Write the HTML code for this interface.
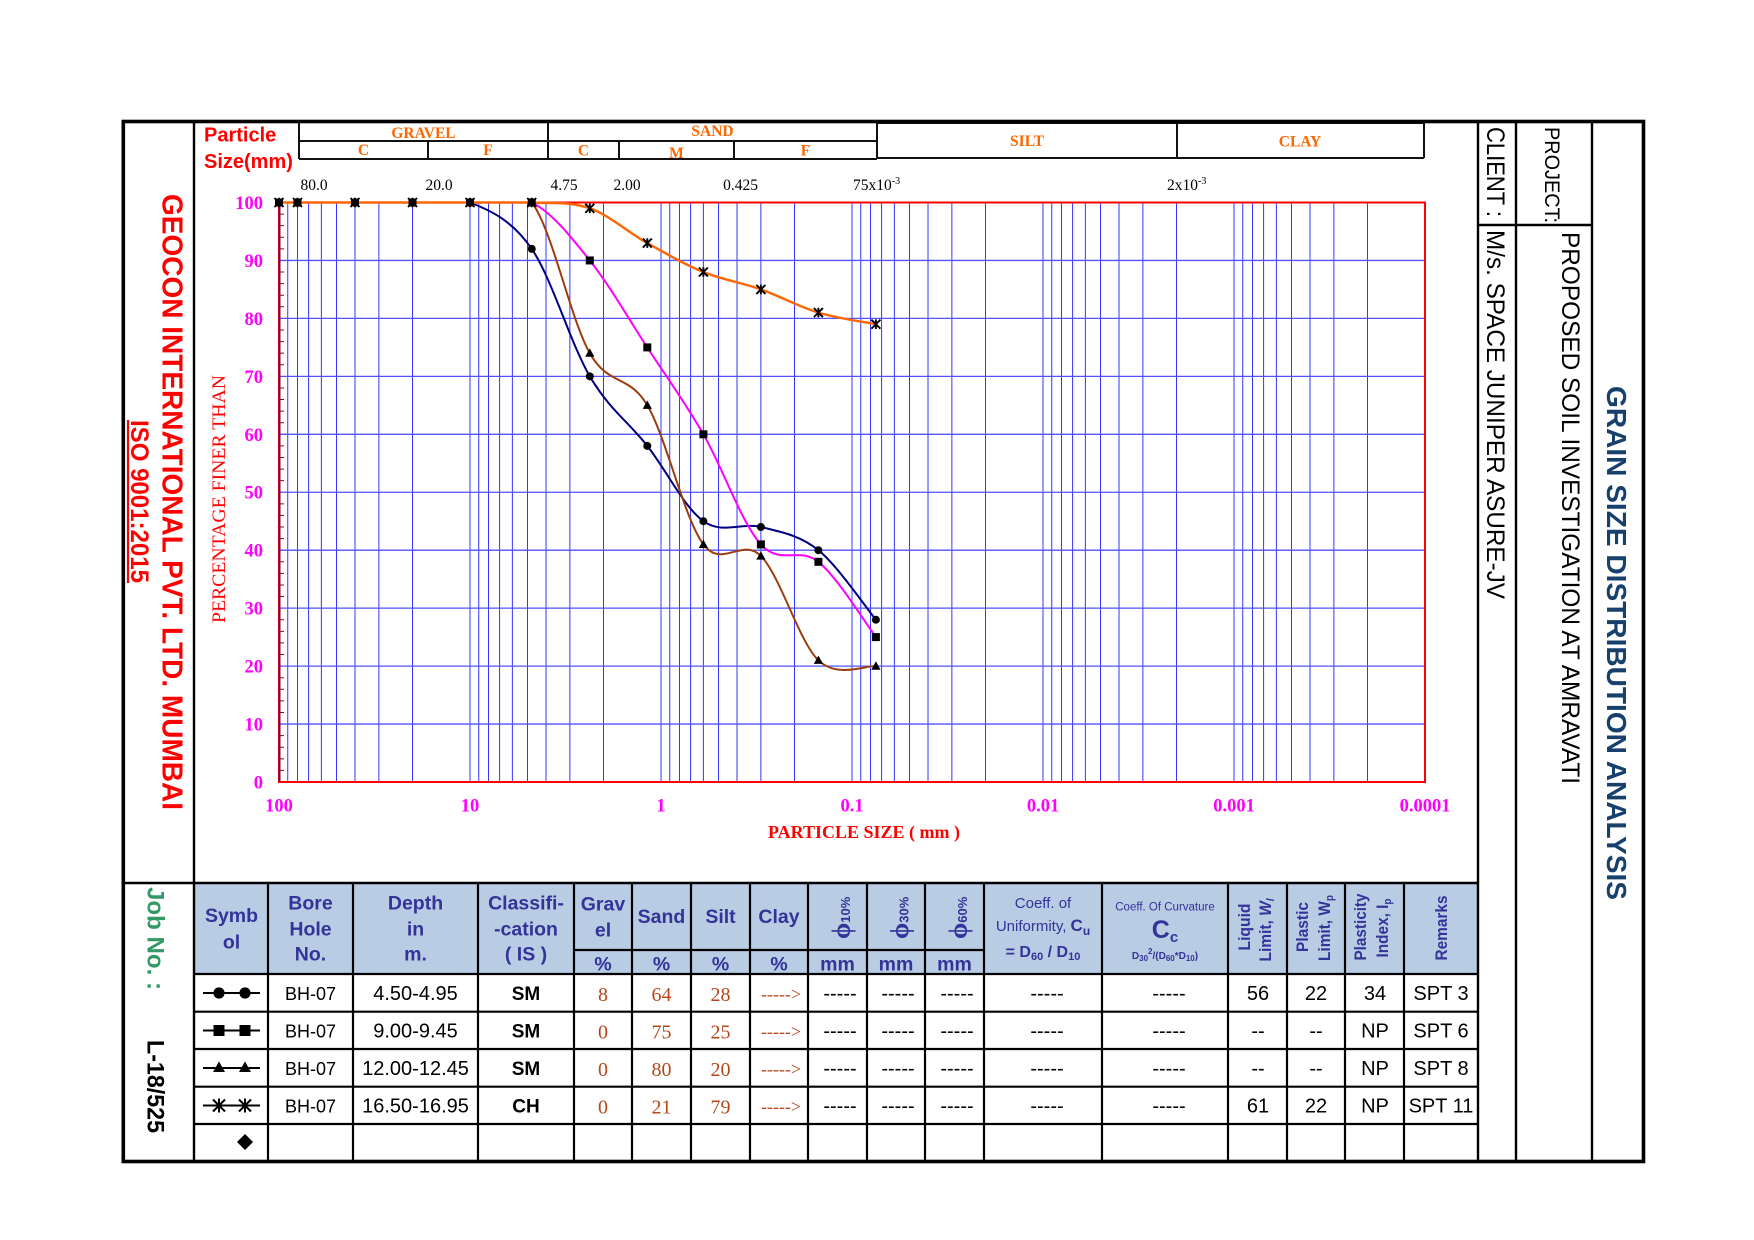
<!DOCTYPE html>
<html><head><meta charset="utf-8"><title>Grain Size Distribution Analysis</title>
<style>
html,body{margin:0;padding:0;background:#fff}
svg{display:block}
.s{font-family:"Liberation Sans",Arial,sans-serif}
.t{font-family:"Liberation Serif","Times New Roman",serif}
</style></head><body>
<svg xmlns="http://www.w3.org/2000/svg" width="1754" height="1240" viewBox="0 0 1754 1240">
<rect width="1754" height="1240" fill="#fff"/>
<defs>
<g id="mC"><circle r="4" fill="#000"/></g>
<g id="mS"><rect x="-4" y="-4" width="8" height="8" fill="#000"/></g>
<g id="mT"><path d="M0,-4.8L4.6,3.6H-4.6Z" fill="#000"/></g>
<g id="mX"><path d="M-4.5,-4.5L4.5,4.5M-4.5,4.5L4.5,-4.5M0,-4.8V4.8" stroke="#000" stroke-width="1.9" fill="none"/></g>
</defs>

<!-- table header background -->
<rect x="195" y="884" width="1282" height="90" fill="#b8cce4"/>

<!-- vertical log grid -->
<path id="dec" d="M287.74 202.5V782M297.51 202.5V782M308.59 202.5V782M321.37 202.5V782M336.5 202.5V782M355.01 202.5V782M378.87 202.5V782M412.5 202.5V782M470 202.5V782" stroke="#3535ff" stroke-width="1" fill="none"/>
<use href="#dec" x="191"/>
<use href="#dec" x="382"/>
<use href="#dec" x="573"/>
<use href="#dec" x="764"/>
<use href="#dec" x="955"/>
<!-- horizontal grid -->
<path d="M279 724.05H1425M279 666.1H1425M279 608.15H1425M279 550.2H1425M279 492.25H1425M279 434.3H1425M279 376.35H1425M279 318.4H1425M279 260.45H1425" stroke="#5252ff" stroke-width="1.3" fill="none"/>
<!-- minor ticks on y axis -->
<path d="M279 770.41h5M279 758.82h5M279 747.23h5M279 735.64h5M279 712.46h5M279 700.87h5M279 689.28h5M279 677.69h5M279 654.51h5M279 642.92h5M279 631.33h5M279 619.74h5M279 596.56h5M279 584.97h5M279 573.38h5M279 561.79h5M279 538.61h5M279 527.02h5M279 515.43h5M279 503.84h5M279 480.66h5M279 469.07h5M279 457.48h5M279 445.89h5M279 422.71h5M279 411.12h5M279 399.53h5M279 387.94h5M279 364.76h5M279 353.17h5M279 341.58h5M279 329.99h5M279 306.81h5M279 295.22h5M279 283.63h5M279 272.04h5M279 248.86h5M279 237.27h5M279 225.68h5M279 214.09h5" stroke="#800040" stroke-width="1" fill="none"/>
<!-- plot frame -->
<rect x="279" y="202.5" width="1146" height="579.5" fill="none" stroke="#ff0000" stroke-width="2"/>
<path d="M279.5 202.5V782" stroke="#800040" stroke-width="2"/>

<!-- curves -->
<g fill="none" stroke-width="2" stroke-linejoin="round" stroke-linecap="round">
<path stroke="#000080" d="M279 202.5L470 202.5C489.9 210.2 511.8 219.9 531.75 248.9C551.7 277.9 570.5 343.5 589.8 376.35C609.1 409.2 628.4 421.8 647.3 445.9C666.2 470 684.5 507.7 703.4 521.2C722.3 534.7 741.7 522.2 760.9 527C780.1 531.8 799.2 534.8 818.4 550.2C837.6 565.7 866.3 608.1 875.9 619.7"/>
<path stroke="#ff00ff" d="M279 202.5L531.75 202.5C551.7 212.2 570.5 236.3 589.8 260.45C609.1 284.6 628.4 318.4 647.3 347.4C666.2 376.4 684.5 401.5 703.4 434.3C722.3 467.1 741.7 523.2 760.9 544.4C780.1 565.7 799.2 546.4 818.4 561.8C837.6 577.3 866.3 624.5 875.9 637.1"/>
<path stroke="#9c3d0c" d="M279 202.5L531.75 202.5C551.7 227.6 570.5 319.4 589.8 353.2C609.1 387 628.4 373.4 647.3 405.3C666.2 437.2 684.5 519.3 703.4 544.4C722.3 569.5 741.7 536.7 760.9 556C780.1 575.3 799.2 642 818.4 660.3C837.6 678.7 866.3 665.1 875.9 666.1"/>
<path stroke="#ff6600" stroke-width="2.4" d="M279 202.5L531.75 202.5C551.7 203.5 570.5 201.5 589.8 208.3C609.1 215.1 628.4 232.5 647.3 243.1C666.2 253.7 684.5 264.3 703.4 272C722.3 279.7 741.7 282.6 760.9 289.4C780.1 296.2 799.2 306.8 818.4 312.6C837.6 318.4 866.3 322.3 875.9 324.2"/>
</g>

<!-- markers -->
<g>
<use href="#mS" x="279" y="202.5"/><use href="#mS" x="297.5" y="202.5"/><use href="#mS" x="355" y="202.5"/><use href="#mS" x="412.5" y="202.5"/><use href="#mS" x="470" y="202.5"/><use href="#mS" x="531.75" y="202.5"/>
<use href="#mT" x="279" y="202.5"/><use href="#mT" x="297.5" y="202.5"/><use href="#mT" x="355" y="202.5"/><use href="#mT" x="412.5" y="202.5"/><use href="#mT" x="470" y="202.5"/><use href="#mT" x="531.75" y="202.5"/>
<use href="#mC" x="279" y="202.5"/><use href="#mC" x="297.5" y="202.5"/><use href="#mC" x="355" y="202.5"/><use href="#mC" x="412.5" y="202.5"/><use href="#mC" x="470" y="202.5"/>
<use href="#mX" x="279" y="202.5"/><use href="#mX" x="297.5" y="202.5"/><use href="#mX" x="355" y="202.5"/><use href="#mX" x="412.5" y="202.5"/><use href="#mX" x="470" y="202.5"/><use href="#mX" x="531.75" y="202.5"/>

<use href="#mC" x="531.75" y="248.9"/><use href="#mC" x="589.8" y="376.35"/><use href="#mC" x="647.3" y="445.9"/><use href="#mC" x="703.4" y="521.2"/><use href="#mC" x="760.9" y="527"/><use href="#mC" x="818.4" y="550.2"/><use href="#mC" x="875.9" y="619.7"/>
<use href="#mS" x="589.8" y="260.45"/><use href="#mS" x="647.3" y="347.4"/><use href="#mS" x="703.4" y="434.3"/><use href="#mS" x="760.9" y="544.4"/><use href="#mS" x="818.4" y="561.8"/><use href="#mS" x="875.9" y="637.1"/>
<use href="#mT" x="589.8" y="353.2"/><use href="#mT" x="647.3" y="405.3"/><use href="#mT" x="703.4" y="544.4"/><use href="#mT" x="760.9" y="556"/><use href="#mT" x="818.4" y="660.3"/><use href="#mT" x="875.9" y="666.1"/>
<use href="#mX" x="589.8" y="208.3"/><use href="#mX" x="647.3" y="243.1"/><use href="#mX" x="703.4" y="272"/><use href="#mX" x="760.9" y="289.4"/><use href="#mX" x="818.4" y="312.6"/><use href="#mX" x="875.9" y="324.2"/>
</g>

<!-- y axis labels -->
<g class="t" font-weight="bold" font-size="18.5" fill="#ff00ff" text-anchor="end">
<text x="263" y="209">100</text>
<text x="263" y="266.9">90</text>
<text x="263" y="324.9">80</text>
<text x="263" y="382.8">70</text>
<text x="263" y="440.8">60</text>
<text x="263" y="498.7">50</text>
<text x="263" y="556.7">40</text>
<text x="263" y="614.6">30</text>
<text x="263" y="672.6">20</text>
<text x="263" y="730.5">10</text>
<text x="263" y="788.5">0</text>
</g>
<!-- x axis labels -->
<g class="t" font-weight="bold" font-size="18.5" fill="#ff00ff" text-anchor="middle">
<text x="279" y="811.5">100</text>
<text x="470" y="811.5">10</text>
<text x="661" y="811.5">1</text>
<text x="852" y="811.5">0.1</text>
<text x="1043" y="811.5">0.01</text>
<text x="1234" y="811.5">0.001</text>
<text x="1425" y="811.5">0.0001</text>
</g>
<text class="t" x="864" y="838" font-weight="bold" font-size="18" fill="#ff0000" text-anchor="middle">PARTICLE SIZE ( mm )</text>
<text class="t" transform="translate(225,623) rotate(-90)" font-size="19" fill="#ff0000" textLength="248" lengthAdjust="spacingAndGlyphs">PERCENTAGE FINER THAN</text>

<!-- sieve size labels -->
<g class="t" font-size="15.5" fill="#000">
<text x="314" y="190" text-anchor="middle">80.0</text>
<text x="439" y="190" text-anchor="middle">20.0</text>
<text x="564" y="190" text-anchor="middle">4.75</text>
<text x="627" y="190" text-anchor="middle">2.00</text>
<text x="740.5" y="190" text-anchor="middle">0.425</text>
<text x="853" y="190">75x10<tspan font-size="10" dy="-6">-3</tspan></text>
<text x="1167" y="190">2x10<tspan font-size="10" dy="-6">-3</tspan></text>
</g>

<!-- top classification header -->
<g stroke="#111" stroke-width="2" fill="none">
<path d="M299 121V159M548 121V159M877 121V159M299 141H877M299 159H877M428 141V159M619 141V159M734 141V159"/>
<path d="M877 123H1424M877 158H1424M1177 123V158M1424 123V158"/>
</g>
<g class="t" font-weight="bold" font-size="15.5" fill="#ff6600" text-anchor="middle">
<text x="423.5" y="138">GRAVEL</text>
<text x="363.5" y="155">C</text>
<text x="488" y="155">F</text>
<text x="712.5" y="136">SAND</text>
<text x="583.5" y="155.5">C</text>
<text x="676.5" y="158">M</text>
<text x="805.5" y="155.5">F</text>
<text x="1027" y="146">SILT</text>
<text x="1300" y="146.5">CLAY</text>
</g>
<g class="s" font-weight="bold" font-size="20" fill="#ff0000">
<text x="204" y="141.7">Particle</text>
<text x="204" y="168">Size(mm)</text>
</g>

<!-- left strip texts -->
<text class="s" transform="translate(162.5,194) rotate(90)" font-weight="bold" font-size="29" fill="#ff0000" textLength="616" lengthAdjust="spacingAndGlyphs">GEOCON INTERNATIONAL PVT. LTD. MUMBAI</text>
<text class="s" transform="translate(131,420) rotate(90)" font-weight="bold" font-size="25" fill="#ff0000" textLength="163" lengthAdjust="spacingAndGlyphs">ISO 9001:2015</text>
<path d="M128 420V583" stroke="#ff0000" stroke-width="2.2"/>
<text class="s" transform="translate(147.5,887) rotate(90)" font-weight="bold" font-size="24.5" fill="#339966" textLength="103" lengthAdjust="spacingAndGlyphs">Job No. :</text>
<text class="s" transform="translate(147.5,1040) rotate(90)" font-weight="bold" font-size="24.5" fill="#000" textLength="93" lengthAdjust="spacingAndGlyphs">L-18/525</text>

<!-- right panel texts -->
<text class="s" transform="translate(1487,127) rotate(90)" font-size="25" fill="#000" textLength="90" lengthAdjust="spacingAndGlyphs">CLIENT :</text>
<text class="s" transform="translate(1487,230) rotate(90)" font-size="25" fill="#000" textLength="369" lengthAdjust="spacingAndGlyphs">M/s. SPACE JUNIPER ASURE-JV</text>
<text class="s" transform="translate(1545,127) rotate(90)" font-size="21" fill="#000" textLength="96" lengthAdjust="spacingAndGlyphs">PROJECT:</text>
<text class="s" transform="translate(1562,232) rotate(90)" font-size="25" fill="#000" textLength="552" lengthAdjust="spacingAndGlyphs">PROPOSED SOIL INVESTIGATION AT AMRAVATI</text>
<text class="s" transform="translate(1607,386) rotate(90)" font-weight="bold" font-size="28" fill="#17406d" textLength="514" lengthAdjust="spacingAndGlyphs">GRAIN SIZE DISTRIBUTION ANALYSIS</text>

<!-- frame lines -->
<g stroke="#000" fill="none">
<path stroke-width="2.4" d="M194 121.5V1161.5M1478 121.5V1161.5M1516 121.5V1161.5M1592 121.5V1161.5M1478 225H1592M123 883H1478"/>
<path stroke-width="2.2" d="M195 974H1478M195 1011.7H1478M195 1049H1478M195 1086.7H1478M195 1124H1478M574 950H984"/>
<path stroke-width="2.2" d="M268 883V1161.5M353 883V1161.5M478 883V1161.5M574 883V1161.5M632 883V1161.5M691 883V1161.5M750 883V1161.5M808 883V1161.5M867 883V1161.5M925 883V1161.5M984 883V1161.5M1102 883V1161.5M1228 883V1161.5M1287 883V1161.5M1345 883V1161.5M1404 883V1161.5"/>
<rect x="123.3" y="121.5" width="1520.2" height="1040" stroke-width="3.6"/>
</g>

<!-- table header text -->
<g class="s" font-weight="bold" font-size="19.5" fill="#333399" text-anchor="middle">
<text x="231.5" y="922">Symb</text>
<text x="231.5" y="948.7">ol</text>
<text x="310.5" y="909.7">Bore</text>
<text x="310.5" y="935.3">Hole</text>
<text x="310.5" y="960.3">No.</text>
<text x="415.5" y="909.7">Depth</text>
<text x="415.5" y="935.3">in</text>
<text x="415.5" y="960.3">m.</text>
<text x="526" y="909.7">Classifi-</text>
<text x="526" y="935.3">-cation</text>
<text x="526" y="960.3">( IS )</text>
<text x="603" y="910.3">Grav</text>
<text x="603" y="936.3">el</text>
<text x="661.5" y="923">Sand</text>
<text x="720.5" y="923">Silt</text>
<text x="779" y="923">Clay</text>
<text x="603" y="970.3">%</text>
<text x="661.5" y="970.3">%</text>
<text x="720.5" y="970.3">%</text>
<text x="779" y="970.3">%</text>
<text x="837.5" y="970.3">mm</text>
<text x="896" y="970.3">mm</text>
<text x="954.5" y="970.3">mm</text>
</g>
<g fill="#333399" font-weight="bold">
<text class="t" transform="translate(850,939) rotate(-90)" font-size="26">ϕ<tspan class="s" font-size="13">10%</tspan></text>
<text class="t" transform="translate(908.5,939) rotate(-90)" font-size="26">ϕ<tspan class="s" font-size="13">30%</tspan></text>
<text class="t" transform="translate(967,939) rotate(-90)" font-size="26">ϕ<tspan class="s" font-size="13">60%</tspan></text>
</g>
<g class="s" fill="#333399" text-anchor="middle">
<text x="1043" y="908" font-size="15">Coeff. of</text>
<text x="1043" y="931" font-size="15">Uniformity, <tspan font-weight="bold" font-size="17">C</tspan><tspan font-weight="bold" font-size="12" dy="4">u</tspan></text>
<text x="1043" y="957" font-size="16" font-weight="bold">= D<tspan font-size="11" dy="3">60</tspan><tspan dy="-3"> / D</tspan><tspan font-size="11" dy="3">10</tspan></text>
<text x="1165" y="910.5" font-size="11.5">Coeff. Of Curvature</text>
<text x="1165" y="938" font-size="25" font-weight="bold">C<tspan font-size="15" dy="4">c</tspan></text>
<text x="1165" y="959" font-size="10" font-weight="bold">D<tspan font-size="8" dy="2">30</tspan><tspan font-size="8" dy="-7">2</tspan><tspan dy="5">/(D</tspan><tspan font-size="8" dy="2">60</tspan><tspan dy="-2">*D</tspan><tspan font-size="8" dy="2">10</tspan><tspan dy="-2">)</tspan></text>
</g>
<g class="s" fill="#333399" font-weight="bold" font-size="17" text-anchor="middle">
<text transform="translate(1250,927) rotate(-90)" textLength="47" lengthAdjust="spacingAndGlyphs">Liquid</text>
<text transform="translate(1271,930) rotate(-90)" textLength="63" lengthAdjust="spacingAndGlyphs">Limit, <tspan font-style="italic">W</tspan><tspan font-size="11" dy="3" font-style="italic">l</tspan></text>
<text transform="translate(1308,927) rotate(-90)" textLength="50" lengthAdjust="spacingAndGlyphs">Plastic</text>
<text transform="translate(1330,928) rotate(-90)" textLength="66" lengthAdjust="spacingAndGlyphs">Limit, W<tspan font-size="11" dy="3">p</tspan></text>
<text transform="translate(1366,927) rotate(-90)" textLength="67" lengthAdjust="spacingAndGlyphs">Plasticity</text>
<text transform="translate(1388,928) rotate(-90)" textLength="59" lengthAdjust="spacingAndGlyphs">Index, I<tspan font-size="11" dy="3">p</tspan></text>
<text transform="translate(1447,928) rotate(-90)" textLength="65" lengthAdjust="spacingAndGlyphs">Remarks</text>
</g>

<!-- table symbols -->
<g stroke="#000" stroke-width="2" fill="none">
<path d="M203 993H260M203 1030.5H260M203 1068H260M203 1105.5H260"/>
</g>
<g fill="#000">
<circle cx="219" cy="993" r="5.6"/><circle cx="245" cy="993" r="5.6"/>
<rect x="213.5" y="1025" width="11" height="11"/><rect x="239.5" y="1025" width="11" height="11"/>
<path d="M219 1061.5L225 1072H213ZM245 1061.5L251 1072H239Z"/>
<path d="M245 1134L253 1142L245 1150L237 1142Z"/>
</g>
<path d="M213 1099.5L225 1111.5M213 1111.5L225 1099.5M219 1098.5V1112.5M239 1099.5L251 1111.5M239 1111.5L251 1099.5M245 1098.5V1112.5" stroke="#000" stroke-width="2" fill="none"/>

<!-- table data -->
<g class="s" font-size="18" fill="#000" text-anchor="middle">
<text x="310.5" y="1000">BH-07</text>
<text x="310.5" y="1037.5">BH-07</text>
<text x="310.5" y="1075">BH-07</text>
<text x="310.5" y="1112.5">BH-07</text>
</g>
<g class="s" font-size="20" fill="#000" text-anchor="middle">
<text x="415.5" y="1000">4.50-4.95</text>
<text x="415.5" y="1037.5">9.00-9.45</text>
<text x="415.5" y="1075">12.00-12.45</text>
<text x="415.5" y="1112.5">16.50-16.95</text>
<g font-weight="bold" font-size="19">
<text x="526" y="1000">SM</text>
<text x="526" y="1037.5">SM</text>
<text x="526" y="1075">SM</text>
<text x="526" y="1112.5">CH</text>
</g>
<text x="840" y="1000">-----</text><text x="898" y="1000">-----</text><text x="957" y="1000">-----</text><text x="1047" y="1000">-----</text><text x="1169" y="1000">-----</text>
<text x="840" y="1037.5">-----</text><text x="898" y="1037.5">-----</text><text x="957" y="1037.5">-----</text><text x="1047" y="1037.5">-----</text><text x="1169" y="1037.5">-----</text>
<text x="840" y="1075">-----</text><text x="898" y="1075">-----</text><text x="957" y="1075">-----</text><text x="1047" y="1075">-----</text><text x="1169" y="1075">-----</text>
<text x="840" y="1112.5">-----</text><text x="898" y="1112.5">-----</text><text x="957" y="1112.5">-----</text><text x="1047" y="1112.5">-----</text><text x="1169" y="1112.5">-----</text>
<text x="1258" y="1000">56</text><text x="1316" y="1000">22</text><text x="1375" y="1000">34</text><text x="1441" y="1000">SPT 3</text>
<text x="1258" y="1037.5">--</text><text x="1316" y="1037.5">--</text><text x="1375" y="1037.5">NP</text><text x="1441" y="1037.5">SPT 6</text>
<text x="1258" y="1075">--</text><text x="1316" y="1075">--</text><text x="1375" y="1075">NP</text><text x="1441" y="1075">SPT 8</text>
<text x="1258" y="1112.5">61</text><text x="1316" y="1112.5">22</text><text x="1375" y="1112.5">NP</text><text x="1441" y="1112.5">SPT 11</text>
</g>
<g class="t" font-size="20" fill="#b5471b" text-anchor="middle">
<text x="603" y="1001">8</text><text x="661.5" y="1001">64</text><text x="720.5" y="1001">28</text>
<text x="603" y="1038.5">0</text><text x="661.5" y="1038.5">75</text><text x="720.5" y="1038.5">25</text>
<text x="603" y="1076">0</text><text x="661.5" y="1076">80</text><text x="720.5" y="1076">20</text>
<text x="603" y="1113.5">0</text><text x="661.5" y="1113.5">21</text><text x="720.5" y="1113.5">79</text>
<g font-size="18">
<text x="781" y="1000">-----&gt;</text>
<text x="781" y="1037.5">-----&gt;</text>
<text x="781" y="1075">-----&gt;</text>
<text x="781" y="1112.5">-----&gt;</text>
</g>
</g>
</svg>
</body></html>
